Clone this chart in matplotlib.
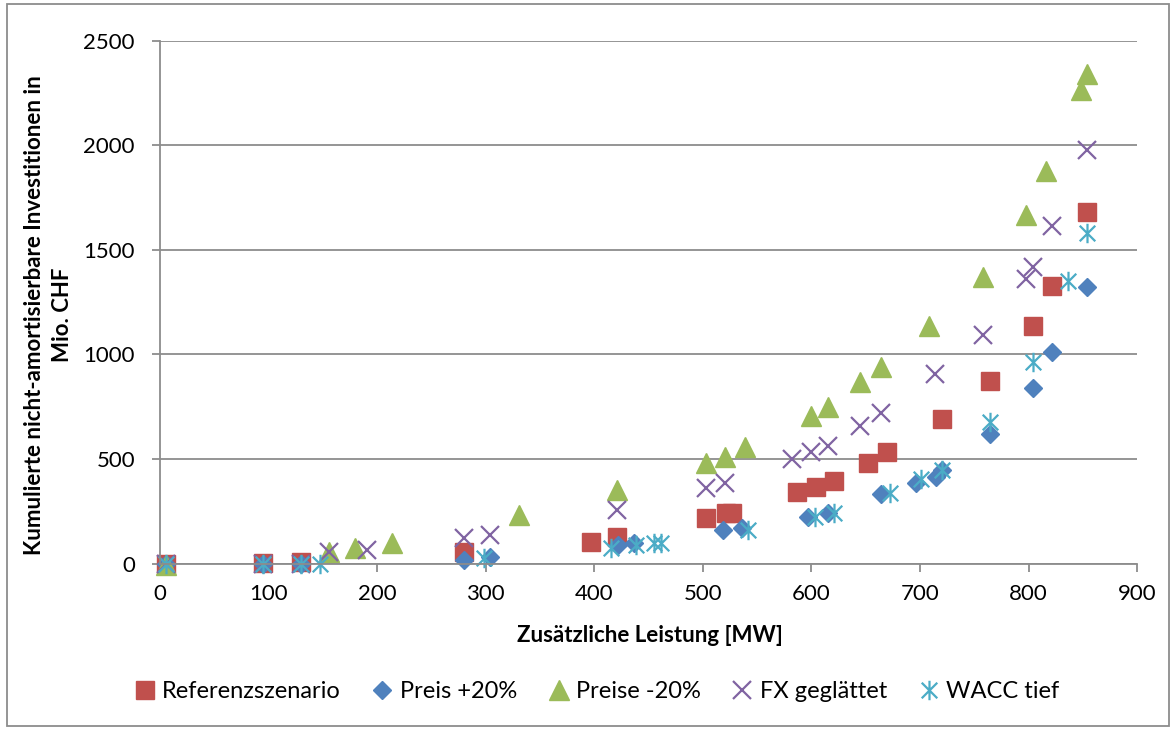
import numpy as np
import matplotlib
matplotlib.use("Agg")
import matplotlib.pyplot as plt
from matplotlib.path import Path
from matplotlib.patches import Rectangle

plt.rcParams['font.family'] = ['Lato', 'DejaVu Sans']

# Referenzszenario
ref_x = [6, 95, 130, 280, 397, 421, 503, 521, 527, 587, 604, 621, 652, 670, 720, 764, 804, 822, 854]
ref_y = [0, 4, 8, 56, 104, 128, 216, 240, 243, 341, 365, 396, 479, 535, 691, 875, 1136, 1328, 1679]
# Preis +20%
up_x = [6, 95, 130, 280, 304, 422, 437, 519, 536, 597, 615, 664, 696, 715, 720, 764, 804, 822, 854]
up_y = [0, 0, 0, 19, 32, 88, 96, 160, 172, 221, 243, 333, 384, 415, 447, 618, 838, 1013, 1324]
# Preise -20%
dn_x = [6, 156, 180, 214, 331, 421, 503, 520, 539, 600, 615, 645, 664, 708, 758, 798, 816, 848, 854]
dn_y = [-5, 56, 75, 100, 233, 354, 480, 508, 556, 707, 750, 867, 939, 1136, 1369, 1667, 1878, 2265, 2341]
# FX geglättet
fx_x = [6, 95, 130, 156, 191, 280, 304, 421, 503, 520, 582, 600, 615, 645, 664, 714, 758, 798, 804, 822, 854]
fx_y = [0, 0, 0, 56, 67, 120, 137, 257, 360, 384, 498, 532, 564, 658, 721, 905, 1093, 1360, 1420, 1615, 1978]
# WACC tief
wacc_x = [6, 95, 130, 147, 298, 415, 438, 455, 461, 542, 603, 621, 672, 701, 720, 764, 804, 836, 854]
wacc_y = [0, 0, 0, 0, 28, 72, 88, 96, 96, 160, 221, 243, 336, 403, 447, 678, 966, 1353, 1580]

# Excel style star: X plus vertical bar
star = Path([(-1, -1), (1, 1), (-1, 1), (1, -1), (0, -1.25), (0, 1.25)],
            [Path.MOVETO, Path.LINETO, Path.MOVETO, Path.LINETO, Path.MOVETO, Path.LINETO])

fig = plt.figure(figsize=(11.76, 7.29), dpi=100)
ax = fig.add_axes([0.136, 0.227, 0.831, 0.717])

ax.plot(ref_x, ref_y, 's', color='#C0504D', ms=13.5, mec='#C0504D', label='Referenzszenario')
ax.plot(up_x, up_y, 'D', color='#4F81BD', ms=9.5, mec='#4F81BD', label='Preis +20%')
ax.plot(dn_x, dn_y, '^', color='#9BBB59', ms=14, mec='#9BBB59', label='Preise -20%')
ax.plot(fx_x, fx_y, 'x', color='#8064A2', ms=13.5, mew=1.6, label='FX geglättet')
ax.plot(wacc_x, wacc_y, linestyle='none', marker=star, color='#4BACC6', ms=14, mew=1.6, label='WACC tief')

ax.set_xlim(0, 900)
ax.set_ylim(0, 2500)
ax.set_xticks(np.arange(0, 901, 100))
ax.set_yticks(np.arange(0, 2501, 500))
ax.yaxis.grid(True, color='#8c8c8c', lw=1.3)
ax.set_axisbelow(True)
for s in ['top', 'right']:
    ax.spines[s].set_visible(False)
for s in ['left', 'bottom']:
    ax.spines[s].set_color('#8c8c8c')
    ax.spines[s].set_linewidth(1.3)
ax.tick_params(axis='both', colors='#8c8c8c', length=6, width=1.3, labelsize=16, labelcolor='black')
ax.tick_params(axis='x', pad=9)
ax.tick_params(axis='y', pad=12)

ax.set_xlabel('Zusätzliche Leistung [MW]', fontsize=16, fontweight='bold')
ax.xaxis.set_label_coords(0.5015, -0.118)
ax.set_ylabel('Kumulierte nicht-amortisierbare Investitionen in\nMio. CHF', fontsize=16,
              fontweight='bold', linespacing=1.4)
ax.yaxis.set_label_coords(-0.089, 0.475)

for line in ax.lines:
    line.set_clip_on(False)

fig.legend(loc='center', bbox_to_anchor=(0.508, 0.051), ncol=5, frameon=False, fontsize=17,
           handlelength=0.8, handletextpad=0.35, columnspacing=1.35)

fig.add_artist(Rectangle((0.006, 0.004), 0.988, 0.99, transform=fig.transFigure,
                         fill=False, edgecolor='#8c8c8c', lw=1.3))

fig.savefig('out.png', dpi=100)
